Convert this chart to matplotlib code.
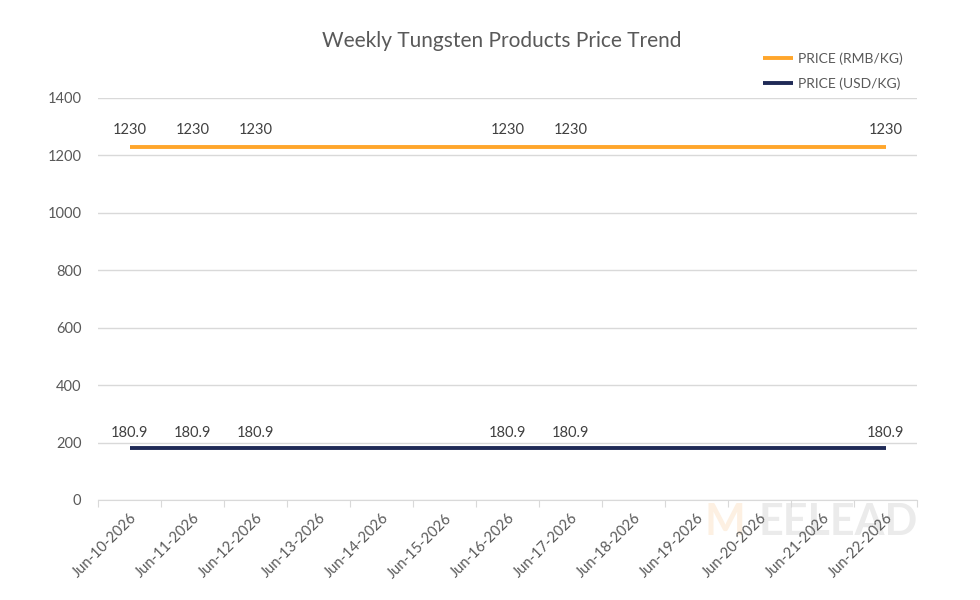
import matplotlib
matplotlib.use('Agg')
from matplotlib import pyplot as plt
import numpy as np

plt.rcParams['font.family'] = ['Lato', 'DejaVu Sans']

dates = ['Jun-10-2026', 'Jun-11-2026', 'Jun-12-2026', 'Jun-13-2026', 'Jun-14-2026',
         'Jun-15-2026', 'Jun-16-2026', 'Jun-17-2026', 'Jun-18-2026', 'Jun-19-2026',
         'Jun-20-2026', 'Jun-21-2026', 'Jun-22-2026']
# only these dates carry a price
data_dates = ['Jun-10-2026', 'Jun-11-2026', 'Jun-12-2026', 'Jun-16-2026', 'Jun-17-2026', 'Jun-22-2026']
rmb = [1230, 1230, 1230, 1230, 1230, 1230]
usd = [180.9, 180.9, 180.9, 180.9, 180.9, 180.9]
yticks = [0, 200, 400, 600, 800, 1000, 1200, 1400]

grey = '#595959'
fig = plt.figure(figsize=(9.8, 6), dpi=100)
ax = fig.add_axes([0.1, 0.1667, 0.836, 0.67])

# faint watermark (behind everything)
fig.text(0.74, 0.13, 'M', ha='center', va='center', fontsize=31, fontweight='bold',
         color='#FDF0E2', zorder=-5)
fig.text(0.855, 0.13, 'EELEAD', ha='center', va='center', fontsize=31, fontweight='bold',
         color='#EBEBEB', zorder=-5)

xpos = [dates.index(d) for d in data_dates]
ax.plot(xpos, rmb, color='#FFA62B', lw=2.8, label='PRICE (RMB/KG)', solid_capstyle='butt', zorder=3)
ax.plot(xpos, usd, color='#1F2A56', lw=2.8, label='PRICE (USD/KG)', solid_capstyle='butt', zorder=3)

for x, v in zip(xpos, rmb):
    ax.annotate(str(v), (x, v), xytext=(0, 7), textcoords='offset points',
                ha='center', va='bottom', fontsize=10.5, color='#404040')
for x, v in zip(xpos, usd):
    ax.annotate(str(v), (x, v), xytext=(0, 6), textcoords='offset points',
                ha='center', va='bottom', fontsize=10.5, color='#404040')

ax.set_xlim(-0.5, len(dates) - 0.5)
ax.set_ylim(0, 1400)
ax.set_yticks(yticks)
ax.yaxis.grid(True, color='#D9D9D9', lw=1)
ax.set_axisbelow(True)
ax.patch.set_alpha(0)
ax.tick_params(axis='y', length=0, labelsize=10.5, labelcolor=grey, pad=12)

ax.set_xticks(np.arange(len(dates) + 1) - 0.5)
ax.set_xticklabels([])
ax.set_xticks(np.arange(len(dates)), minor=True)
ax.set_xticklabels(dates, minor=True, rotation=45, ha='right', rotation_mode='anchor')
ax.tick_params(axis='x', which='major', length=5, color='#D9D9D9')
ax.tick_params(axis='x', which='minor', length=0, labelsize=10.5, labelcolor=grey, pad=8)

for s in ['top', 'right', 'left']:
    ax.spines[s].set_visible(False)
ax.spines['bottom'].set_color('#D9D9D9')

fig.text(0.512, 0.932, 'Weekly Tungsten Products Price Trend', ha='center', va='center',
         fontsize=15, color=grey)

leg = ax.legend(loc='upper right', bbox_to_anchor=(0.997, 1.145), frameon=False,
                fontsize=10, labelcolor=grey, handlelength=2.2, handletextpad=0.3,
                labelspacing=0.9)

fig.savefig('out.png', dpi=100)
